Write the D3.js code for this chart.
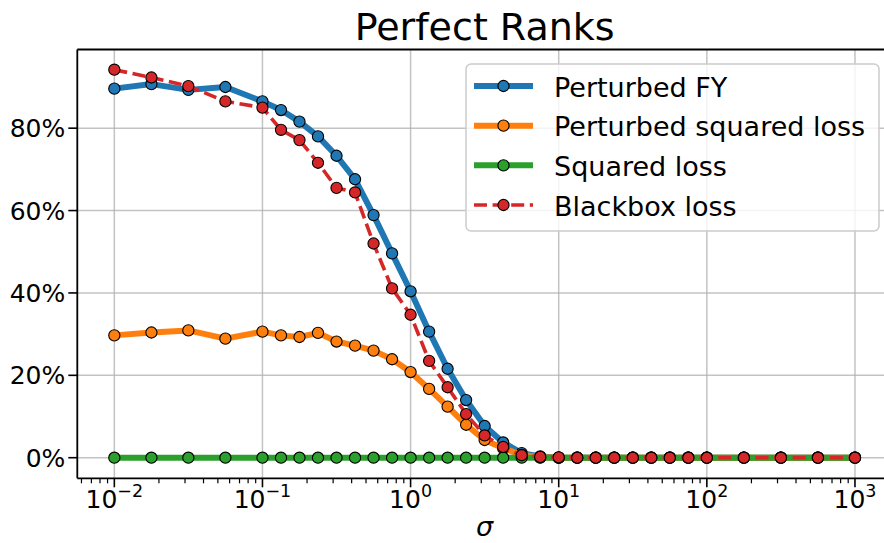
<!DOCTYPE html>
<html>
<head>
<meta charset="utf-8">
<script src="https://cdn.jsdelivr.net/npm/d3@7"></script>
<style>
  body { margin: 0; background: #fff; }
  svg { display: block; font-family: "DejaVu Sans", sans-serif; }
</style>
</head>
<body>
<svg id="chart" width="884" height="543"></svg>
<script>
// -------- DATA --------
const sigmas = [0.01, 0.0178, 0.0316, 0.0562, 0.1, 0.1334, 0.1778, 0.2371, 0.3162, 0.4217,
  0.5623, 0.7499, 1, 1.334, 1.778, 2.371, 3.162, 4.217, 5.623, 7.499,
  10, 13.34, 17.78, 23.71, 31.62, 42.17, 56.23, 74.99, 100, 177.8, 316.2, 562.3, 1000];

const perturbedFY = [89.6, 90.7, 89.3, 90.0, 86.5, 84.4, 81.6, 78.0, 73.3, 67.6,
  58.9, 49.6, 40.4, 30.6, 21.6, 14.0, 7.7, 3.7, 1.1, 0.3,
  0, 0, 0, 0, 0, 0, 0, 0, 0, 0, 0, 0, 0];

const perturbedSq = [29.7, 30.4, 30.9, 28.9, 30.6, 29.7, 29.3, 30.3, 28.2, 27.2,
  26.0, 23.9, 20.8, 16.7, 12.4, 8.0, 4.3, 2.3, 0.7, 0.1,
  0, 0, 0, 0, 0, 0, 0, 0, 0, 0, 0, 0, 0];

const squaredLoss = [0, 0, 0, 0, 0, 0, 0, 0, 0, 0,
  0, 0, 0, 0, 0, 0, 0, 0, 0, 0,
  0, 0, 0, 0, 0, 0, 0, 0, 0, 0, 0, 0, 0];

const blackbox = [94.2, 92.3, 90.2, 86.5, 85.0, 79.6, 77.1, 71.6, 65.5, 64.4,
  52.0, 41.1, 34.7, 23.5, 17.1, 10.6, 5.4, 2.6, 0.6, 0.2,
  0.1, 0, 0, 0, 0, 0, 0, 0, 0, 0, 0, 0, 0];

const seriesNames = ["Perturbed FY", "Perturbed squared loss", "Squared loss", "Blackbox loss"];
const seriesColors = ["#1f77b4", "#ff7f0e", "#2ca02c", "#d62728"];

const xTicks = [0.01, 0.1, 1, 10, 100, 1000];
const yTicks = [0, 20, 40, 60, 80];

// -------- LAYOUT --------
const svg = d3.select("#chart");
const plotLeft = 77.3, plotRight = 892, plotTop = 49.5, plotBottom = 478.3;

const x = d3.scaleLog()
  .domain([Math.pow(10, -2.25), Math.pow(10, 3.25)])
  .range([plotLeft, plotRight]);

const y = d3.scaleLinear()
  .domain([-5.0, 99.1])
  .range([plotBottom, plotTop]);

// -------- GRID --------
const grid = svg.append("g").attr("class", "grid");
grid.selectAll("line.gx")
  .data(xTicks)
  .enter().append("line")
  .attr("x1", d => x(d)).attr("x2", d => x(d))
  .attr("y1", plotTop).attr("y2", plotBottom)
  .attr("stroke", "#b0b0b0").attr("stroke-width", 1.5).attr("opacity", 0.75);

grid.selectAll("line.gy")
  .data(yTicks)
  .enter().append("line")
  .attr("x1", plotLeft).attr("x2", plotRight)
  .attr("y1", d => y(d)).attr("y2", d => y(d))
  .attr("stroke", "#b0b0b0").attr("stroke-width", 1.5).attr("opacity", 0.75);

// -------- SERIES --------
const allSeries = [perturbedFY, perturbedSq, squaredLoss, blackbox];
const line = d3.line()
  .x((d, i) => x(sigmas[i]))
  .y(d => y(d));

allSeries.forEach((vals, k) => {
  const g = svg.append("g").attr("class", "series");
  const isDashed = k === 3;
  g.append("path")
    .attr("d", line(vals))
    .attr("fill", "none")
    .attr("stroke", seriesColors[k])
    .attr("stroke-width", isDashed ? 3.6 : 6)
    .attr("stroke-dasharray", isDashed ? "13,5.6" : null)
    .attr("stroke-linejoin", "round");

  g.selectAll("circle")
    .data(vals)
    .enter().append("circle")
    .attr("cx", (d, i) => x(sigmas[i]))
    .attr("cy", d => y(d))
    .attr("r", 5.6)
    .attr("fill", seriesColors[k])
    .attr("stroke", "#000")
    .attr("stroke-width", 1.1);
});

// -------- AXES --------
const axis = svg.append("g").attr("class", "axes");

// spines
axis.append("line").attr("x1", plotLeft).attr("x2", plotLeft).attr("y1", plotTop).attr("y2", plotBottom)
  .attr("stroke", "#000").attr("stroke-width", 1.8);
axis.append("line").attr("x1", plotLeft).attr("x2", plotRight).attr("y1", plotBottom).attr("y2", plotBottom)
  .attr("stroke", "#000").attr("stroke-width", 1.8);
axis.append("line").attr("x1", plotLeft).attr("x2", plotRight).attr("y1", plotTop).attr("y2", plotTop)
  .attr("stroke", "#000").attr("stroke-width", 1.8);

// y ticks
yTicks.forEach(t => {
  axis.append("line")
    .attr("x1", plotLeft - 9).attr("x2", plotLeft)
    .attr("y1", y(t)).attr("y2", y(t))
    .attr("stroke", "#000").attr("stroke-width", 1.6);
  axis.append("text")
    .attr("x", plotLeft - 12)
    .attr("y", y(t) + 9)
    .attr("text-anchor", "end")
    .attr("font-size", 25)
    .attr("fill", "#000")
    .text(t + "%");
});

// x minor ticks
const minorTicks = x.ticks().filter(t => xTicks.indexOf(t) < 0);
minorTicks.forEach(t => {
  if (x(t) < plotLeft || x(t) > 884) return;
  axis.append("line")
    .attr("x1", x(t)).attr("x2", x(t))
    .attr("y1", plotBottom).attr("y2", plotBottom + 5)
    .attr("stroke", "#000").attr("stroke-width", 1.2);
});

// x major ticks
xTicks.forEach(t => {
  axis.append("line")
    .attr("x1", x(t)).attr("x2", x(t))
    .attr("y1", plotBottom).attr("y2", plotBottom + 9)
    .attr("stroke", "#000").attr("stroke-width", 1.6);
  const exp = Math.round(Math.log10(t));
  const label = axis.append("text")
    .attr("x", x(t))
    .attr("y", 508)
    .attr("text-anchor", "middle")
    .attr("font-size", 25)
    .attr("fill", "#000");
  label.append("tspan").text("10");
  label.append("tspan")
    .attr("dy", -11)
    .attr("font-size", 17.5)
    .text(exp < 0 ? "\u2212" + (-exp) : String(exp));
});

// x label
svg.append("text")
  .attr("x", (plotLeft + plotRight) / 2)
  .attr("y", 536)
  .attr("text-anchor", "middle")
  .attr("font-size", 27)
  .attr("font-style", "italic")
  .text("\u03c3");

// title
svg.append("text")
  .attr("x", (plotLeft + plotRight) / 2)
  .attr("y", 39.5)
  .attr("text-anchor", "middle")
  .attr("font-size", 38)
  .text("Perfect Ranks");

// -------- LEGEND --------
const legend = svg.append("g").attr("class", "legend");
legend.append("rect")
  .attr("x", 466).attr("y", 64)
  .attr("width", 413).attr("height", 167)
  .attr("rx", 5)
  .attr("fill", "#fff").attr("fill-opacity", 0.8)
  .attr("stroke", "#cccccc").attr("stroke-width", 1.5);

const rowY = d3.scaleLinear().domain([0, 3]).range([86, 205]);
seriesNames.forEach((name, k) => {
  const cy = rowY(k);
  const isDashed = k === 3;
  legend.append("line")
    .attr("x1", 474).attr("x2", 533)
    .attr("y1", cy).attr("y2", cy)
    .attr("stroke", seriesColors[k])
    .attr("stroke-width", isDashed ? 3.6 : 6)
    .attr("stroke-dasharray", isDashed ? "13,5.6" : null);
  legend.append("circle")
    .attr("cx", 503.5).attr("cy", cy)
    .attr("r", 5.6)
    .attr("fill", seriesColors[k])
    .attr("stroke", "#000").attr("stroke-width", 1.1);
  legend.append("text")
    .attr("x", 554)
    .attr("y", cy + 10.5)
    .attr("font-size", 27)
    .attr("fill", "#000")
    .text(name);
});
</script>
</body>
</html>
